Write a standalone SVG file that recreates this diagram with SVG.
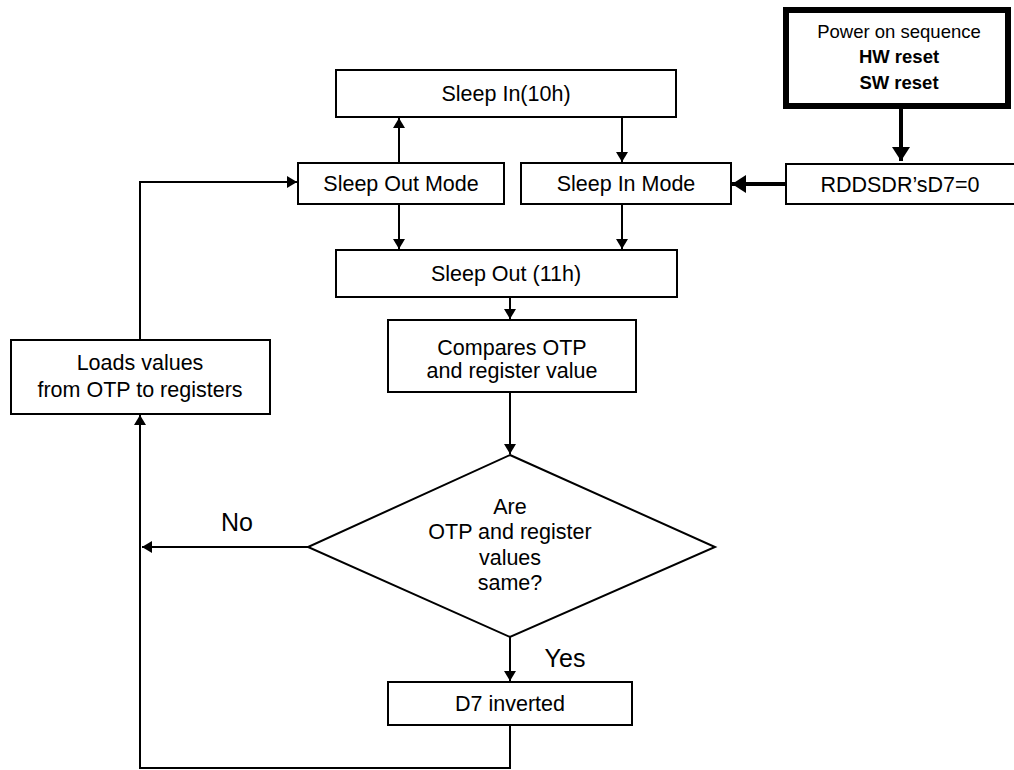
<svg xmlns="http://www.w3.org/2000/svg" width="1014" height="770" viewBox="0 0 1014 770">
<style>
.box{fill:#fff;stroke:#000;stroke-width:2}
.thick{fill:#fff;stroke:#000;stroke-width:6}
.t{font-family:"Liberation Sans",Arial,sans-serif;font-size:21.5px;fill:#000;text-anchor:middle}
.s{font-size:18.5px}
.b{font-weight:bold}
.l{font-size:25px}
.c{fill:none;stroke:#000;stroke-width:2}
.ct{fill:none;stroke:#000;stroke-width:4}
</style>
<defs>
<marker id="ah" markerWidth="12" markerHeight="12" refX="10" refY="6" orient="auto" markerUnits="userSpaceOnUse">
<path d="M0,0 L10,6 L0,12 z" fill="#000"/>
</marker>
<marker id="ahb" markerWidth="18" markerHeight="18" refX="14" refY="9" orient="auto" markerUnits="userSpaceOnUse">
<path d="M0,0 L14,9 L0,18 z" fill="#000"/>
</marker>
</defs>
<g id="connectors">
<line class="ct" x1="901" y1="108" x2="901" y2="161" marker-end="url(#ahb)"/>
<line class="ct" x1="786" y1="184" x2="732" y2="184" marker-end="url(#ahb)"/>
<line class="c" x1="399" y1="163" x2="399" y2="118" marker-end="url(#ah)"/>
<line class="c" x1="622" y1="117" x2="622" y2="162" marker-end="url(#ah)"/>
<line class="c" x1="399" y1="204" x2="399" y2="249" marker-end="url(#ah)"/>
<line class="c" x1="622" y1="204" x2="622" y2="249" marker-end="url(#ah)"/>
<line class="c" x1="510" y1="297" x2="510" y2="319" marker-end="url(#ah)"/>
<line class="c" x1="510" y1="392" x2="510" y2="454" marker-end="url(#ah)"/>
<line class="c" x1="510" y1="637" x2="510" y2="681" marker-end="url(#ah)"/>
<line class="c" x1="308" y1="547" x2="142" y2="547" marker-end="url(#ah)"/>
<polyline class="c" points="510,725 510,768 140,768 140,415" marker-end="url(#ah)"/>
<polyline class="c" points="140,340 140,182 297,182" marker-end="url(#ah)"/>
<text class="t l" x="237" y="531">No</text>
<text class="t l" x="565" y="667">Yes</text>
</g>
<g id="power">
<rect class="thick" x="786" y="10" width="222" height="96"/>
<text class="t s" x="899" y="38">Power on sequence</text>
<text class="t s b" x="899" y="63">HW reset</text>
<text class="t s b" x="899" y="89">SW reset</text>
</g>
<g id="rddsdr">
<rect class="box" x="786" y="164" width="240" height="40"/>
<text class="t" x="900" y="192">RDDSDR’sD7=0</text>
</g>
<g id="sleepin10h">
<rect class="box" x="336" y="70" width="340" height="47"/>
<text class="t" x="506" y="101">Sleep In(10h)</text>
</g>
<g id="sleepoutmode">
<rect class="box" x="298" y="163" width="206" height="41"/>
<text class="t" x="401" y="191">Sleep Out Mode</text>
</g>
<g id="sleepinmode">
<rect class="box" x="521" y="163" width="210" height="41"/>
<text class="t" x="626" y="191">Sleep In Mode</text>
</g>
<g id="sleepout11h">
<rect class="box" x="336" y="250" width="341" height="47"/>
<text class="t" x="506" y="281">Sleep Out (11h)</text>
</g>
<g id="compares">
<rect class="box" x="388" y="320" width="248" height="72"/>
<text class="t" x="512" y="355">Compares OTP</text>
<text class="t" x="512" y="378">and register value</text>
</g>
<g id="loads">
<rect class="box" x="11" y="340" width="259" height="74"/>
<text class="t" x="140" y="370">Loads values</text>
<text class="t" x="140" y="397">from OTP to registers</text>
</g>
<g id="decision">
<polygon class="box" points="510,455 715,547 510,637 308,547"/>
<text class="t" x="510" y="514">Are</text>
<text class="t" x="510" y="539">OTP and register</text>
<text class="t" x="510" y="565">values</text>
<text class="t" x="510" y="590">same?</text>
</g>
<g id="d7inverted">
<rect class="box" x="388" y="682" width="244" height="43"/>
<text class="t" x="510" y="711">D7 inverted</text>
</g>
</svg>
